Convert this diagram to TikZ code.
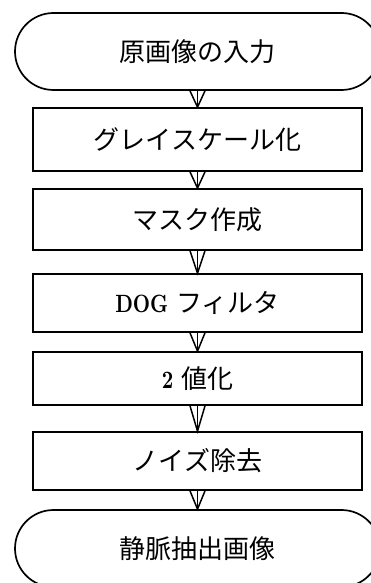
\documentclass[tikz,border=0pt]{standalone}
\usepackage{fontspec}
\newfontfamily\jp{Noto Sans CJK JP}
\newfontfamily\latf{lmroman10-bold}[Extension=.otf]
\usetikzlibrary{shapes.misc,calc}
\newcommand{\lat}[1]{\scalebox{0.8}[1]{\latf\fontsize{25}{30}\selectfont #1}}
\begin{document}
\begin{tikzpicture}[x=1pt,y=-1pt,
  txt/.style={font=\fontsize{26}{30}\selectfont\jp},
  proc/.style={draw, line width=1.7pt, minimum width=329pt, inner sep=0pt, txt},
  term/.style={draw, rounded rectangle, line width=1.7pt, minimum width=365pt, minimum height=77pt, inner sep=0pt, txt},
  conn/.style={line width=1.5pt, line join=miter}]
\useasboundingbox (0,0) rectangle (370,583);
\node[term] (t1) at (197.5,51.5) {原画像の入力};
\node[proc, minimum height=63pt] (b1) at (197.5,139.5) {グレイスケール化};
\node[proc, minimum height=61pt] (b2) at (197.5,219.5) {マスク作成};
\node[proc, minimum height=58pt] (b3) at (197.5,303) {\lat{DOG}\hspace{8pt}フィルタ};
\node[proc, minimum height=53pt] (b4) at (197.5,378.5) {\lat{2}\hspace{8pt}値化};
\node[proc, minimum height=58pt] (b5) at (197.5,461) {ノイズ除去};
\node[term] (t2) at (197.5,548.5) {静脈抽出画像};
\foreach \a/\b in {t1/b1,b1/b2,b2/b3,b3/b4,b4/b5,b5/t2}{
  \draw[conn] (\a.south) -- (\b.north);
  \draw[conn] ($(\a.south)+(-7.5,0)$) -- (\b.north) -- ($(\a.south)+(7.5,0)$);
}
\end{tikzpicture}
\end{document}
